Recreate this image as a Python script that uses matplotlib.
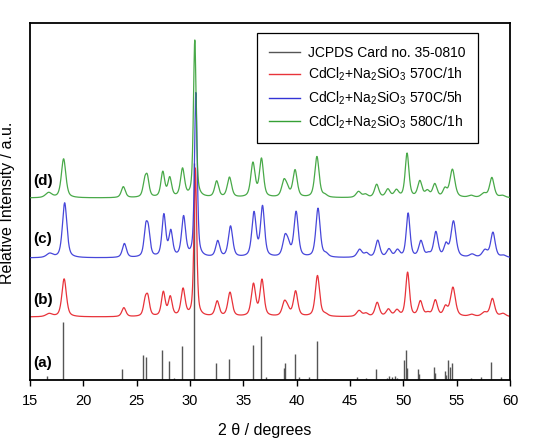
import numpy as np
import matplotlib
matplotlib.use("Agg")
import matplotlib.pyplot as plt
from matplotlib.lines import Line2D

plt.rcParams['font.family'] = ['Liberation Sans', 'DejaVu Sans']
plt.rcParams['mathtext.fontset'] = 'custom'
plt.rcParams['mathtext.rm'] = 'Liberation Sans'
plt.rcParams['mathtext.it'] = 'Liberation Sans:italic'
plt.rcParams['mathtext.bf'] = 'Liberation Sans:bold'

# ---- data ----
# JCPDS card 35-0810 reference sticks: 2theta (deg), relative height (a.u.)
stick_pos = [16.58, 18.05, 23.6, 25.63, 25.91, 27.38, 28.07, 28.54, 29.23, 30.35,
             32.45, 33.64, 35.89, 36.67, 37.08, 38.8, 38.93, 39.8, 40.2, 41.18,
             41.87, 42.68, 45.66, 46.47, 47.47, 48.45, 48.69, 48.92, 49.26, 49.38,
             50.1, 50.26, 50.38, 51.38, 51.5, 52.86, 52.98, 53.86, 53.99, 54.2,
             54.33, 54.58, 56.39, 57.3, 58.21, 59.2]
stick_int = [4, 58, 11, 25, 23, 30, 19, 2, 34, 217,
             17, 21, 35, 44, 3, 12, 17, 26, 3, 3,
             39, 1, 3, 2, 11, 2, 4, 3, 4, 2,
             20, 30, 12, 11, 6, 13, 7, 9, 5, 20,
             13, 17, 2, 3, 18, 3]

# sample peaks: positions (deg), widths (deg) and apparent heights per pattern
peak_pos = [16.8, 18.2, 23.8, 25.8, 26.05, 27.5, 28.15, 29.35, 30.5, 32.55,
            33.75, 35.95, 36.75, 38.85, 39.15, 39.9, 41.95, 42.7, 45.85, 46.5,
            47.55, 48.6, 49.4, 50.4, 51.6, 52.3, 53.0, 53.95, 54.65, 56.4,
            57.6, 58.35, 59.35]
peak_fwhm = [0.7, 0.5, 0.45, 0.4, 0.4, 0.42, 0.42, 0.45, 0.3, 0.45,
             0.48, 0.48, 0.45, 0.5, 0.5, 0.48, 0.48, 0.5, 0.55, 0.5,
             0.48, 0.5, 0.5, 0.42, 0.48, 0.5, 0.48, 0.45, 0.55, 0.6,
             0.6, 0.5, 0.6]
h_b = [3, 38, 9, 14, 17, 24, 19, 27, 148, 15,
       24, 32, 36, 13, 6, 25, 41, 2, 6, 3,
       14, 7, 6, 44, 15, 3, 16, 9, 29, 2,
       4, 18, 3]
h_c = [4, 55, 14, 26, 23, 42, 25, 40, 164, 16,
       31, 44, 50, 18, 10, 45, 49, 3, 8, 4,
       17, 8, 7, 44, 16, 3, 25, 12, 36, 3,
       7, 25, 2]
h_d = [5, 39, 11, 14, 18, 25, 19, 28, 157, 16,
       20, 34, 38, 15, 7, 27, 41, 2, 6, 3,
       13, 8, 7, 44, 16, 6, 13, 8, 28, 2,
       4, 20, 2]
offset_b, offset_c, offset_d = 63, 122, 182
shift_b, shift_c, shift_d = 0.0, 0.05, -0.05

labels = ['JCPDS Card no. 35-0810',
          r'CdCl$_2$+Na$_2$SiO$_3$ 570C/1h',
          r'CdCl$_2$+Na$_2$SiO$_3$ 570C/5h',
          r'CdCl$_2$+Na$_2$SiO$_3$ 580C/1h']
c_stick, c_b, c_c, c_d = '#555555', '#e8333a', '#3333d6', '#35a035'

x = np.linspace(15, 60, 6000)


def pattern(heights, shift, offset):
    y = np.full_like(x, float(offset))
    for p, w, h in zip(peak_pos, peak_fwhm, heights):
        d = (x - p - shift) / (w / 2.0)
        lor = 1.0 / (1.0 + d ** 2)
        gau = np.exp(-np.log(2) * d ** 2)
        y += h * (0.55 * lor + 0.45 * gau)
    return y


fig = plt.figure(figsize=(5.39, 4.43), dpi=100)
ax = fig.add_axes([30 / 539, 63 / 443, 480 / 539, 357.3 / 443])

ax.vlines(stick_pos, 0, stick_int, color=c_stick, lw=1.0, zorder=1)
ax.plot(x, pattern(h_b, shift_b, offset_b), color=c_b, lw=0.9, zorder=2)
ax.plot(x, pattern(h_c, shift_c, offset_c), color=c_c, lw=0.9, zorder=3, alpha=0.9)
ax.plot(x, pattern(h_d, shift_d, offset_d), color=c_d, lw=0.9, zorder=4, alpha=0.9)

ax.set_xlim(15, 60)
ax.set_ylim(0, 357.3)
ax.set_yticks([])
ax.set_xticks(range(15, 61, 5))
ax.tick_params(axis='x', direction='out', length=4, width=1, labelsize=10.5, pad=6)
for s in ax.spines.values():
    s.set_linewidth(1.3)

for txt, yy in [('(a)', 17), ('(b)', 80), ('(c)', 141), ('(d)', 199)]:
    ax.text(16.2, yy, txt, fontsize=11, fontweight='bold', ha='center', va='center')

handles = [Line2D([], [], color=c, lw=1.0) for c in (c_stick, c_b, c_c, c_d)]
leg = ax.legend(handles, labels, loc='upper left',
                bbox_to_anchor=(256.5 / 539, 1 - 33.3 / 443),
                bbox_transform=fig.transFigure, borderaxespad=0,
                fontsize=10, frameon=True, fancybox=False, framealpha=1,
                edgecolor='black', handlelength=2.2, handletextpad=0.6,
                borderpad=0.9, labelspacing=0.45)
leg.get_frame().set_linewidth(0.9)

fig.text(265 / 539, 1 - 430 / 443, r'2 θ / degrees', fontsize=11.5,
         ha='center', va='center')
fig.text(8 / 539, 1 - 203 / 443, 'Relative Intensity / a.u.', fontsize=11.5,
         rotation=90, ha='center', va='center')

fig.savefig('out.png', dpi=100)
